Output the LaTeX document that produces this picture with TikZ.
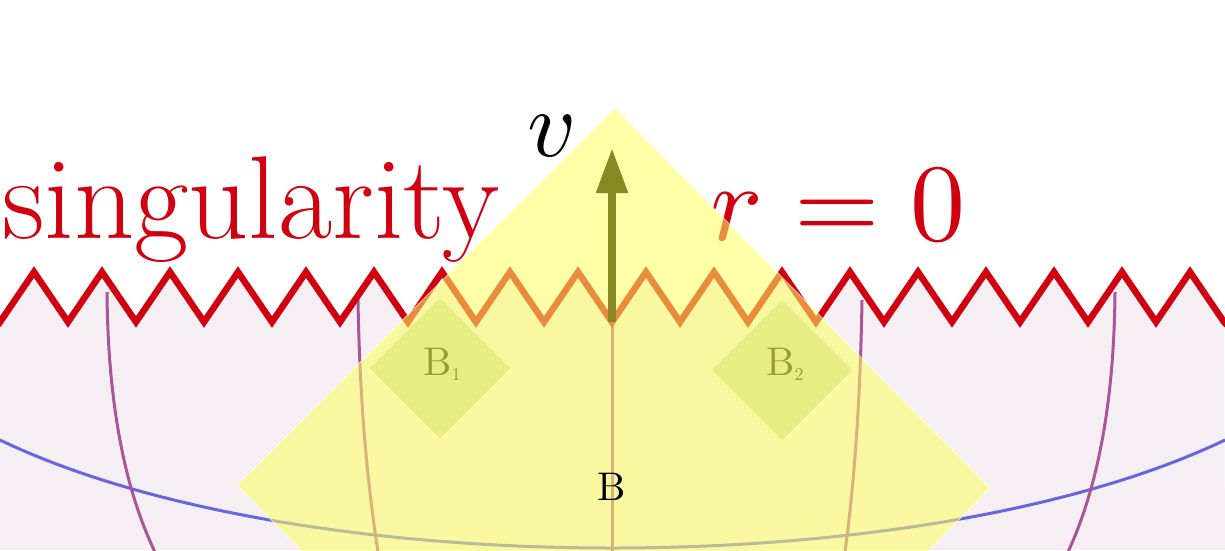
\documentclass[tikz,border=0pt]{standalone}
\usepackage{graphicx}
\usetikzlibrary{arrows.meta}
\definecolor{bgpink}{HTML}{F5EEF2}
\definecolor{zred}{HTML}{D00010}
\definecolor{pblue}{HTML}{6666DD}
\definecolor{ppurp}{HTML}{AA5599}
\definecolor{olive}{HTML}{888822}
\definecolor{yel}{HTML}{FFFF60}
\definecolor{dgreen}{HTML}{D8E870}
\tikzset{worldline/.style={ppurp,line width=3pt},
  lab/.style={inner sep=0pt}}
\begin{document}
\begin{tikzpicture}[x=1pt,y=-1pt]
\useasboundingbox (0,0) rectangle (1225,550);
\fill[bgpink] (0,322) foreach \k in {0,...,17} {-- ({34+68*\k},272) -- ({68+68*\k},322)} -- (1225,550) -- (0,550) -- cycle;
\draw[pblue,line width=3pt] (0,440) .. controls (300,584) and (924,584) .. (1225,440);
\draw[worldline] (107,292) .. controls (108,420) and (130,500) .. (155,552);
\draw[worldline] (358,300) .. controls (360,420) and (370,500) .. (378,552);
\draw[worldline] (612,322) -- (612,552);
\draw[worldline] (862,300) .. controls (860,420) and (852,500) .. (845,552);
\draw[worldline] (1115,292) .. controls (1114,420) and (1092,500) .. (1068,552);
\draw[zred,line width=6.5pt,line join=miter] (-2,325) foreach \k in {0,...,17} {-- ({34+68*\k},272) -- ({68+68*\k},322)} -- (1227,325);
\node[lab,anchor=base west,zred,font=\fontsize{118}{118}\selectfont] (sing) at (2,238) {singularity};
\node[lab,anchor=base,zred] (r0) at (838,240) {\scalebox{11}{$r=0$}};
\fill[yel,opacity=0.55,draw=white,line width=1pt] (615,108) -- (990,488) -- (900,580) -- (330,580) -- (237,485) -- cycle;
\fill[dgreen,opacity=0.6] (440,298) -- (510,368) -- (440,438) -- (370,368) -- cycle;
\fill[dgreen,opacity=0.6] (782,300) -- (852,370) -- (782,440) -- (712,370) -- cycle;
\node[lab,olive,opacity=0.8] (b1) at (442,364) {\scalebox{4}{B\raisebox{-0.3ex}{\scalebox{0.45}{1}}}};
\node[lab,olive,opacity=0.8] (b2) at (785,364) {\scalebox{4}{B\raisebox{-0.3ex}{\scalebox{0.45}{2}}}};
\node[lab] (b) at (612,487) {\scalebox{4}{B}};
\coordinate (o) at (612,322);
\coordinate (top) at (612,148);
\draw[olive,line width=8pt,-{Triangle[length=45pt,width=30pt]}] (o) -- (top);
\node[lab] (v) at (552,136) {\scalebox{9.5}{$v$}};
\end{tikzpicture}
\end{document}
